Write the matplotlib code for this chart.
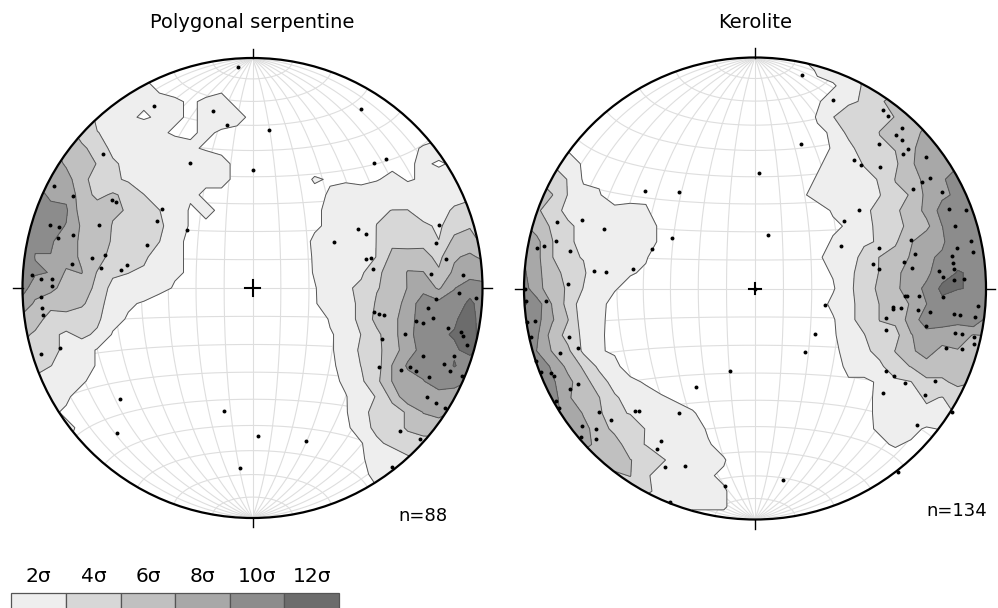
import numpy as np
import matplotlib.pyplot as plt
from matplotlib.patches import Circle, Rectangle

# poles read off the two lower-hemisphere equal-area nets
# (east, north in net units, primitive circle radius = 1)
serp_e = [-0.062, -0.430, -0.173, -0.110, -0.651, -0.273, 0.004, -0.863, -0.779, -0.611,
          -0.592, -0.393, -0.417, -0.285, -0.880, -0.843, -0.667, -0.847, -0.782, -0.460,
          -0.697, -0.640, -0.786, -0.659, -0.570, -0.544, -0.957, -0.920, -0.870, -0.873,
          -0.918, -0.914, -0.911, -0.920, -0.838, -0.577, -0.588, -0.125, -0.053,
          0.472, 0.073, 0.527, 0.582,
          0.457, 0.492, 0.354, 0.810, 0.798, 0.493, 0.515, 0.525, 0.841, 0.777, 0.914,
          0.898, 0.970, 0.798, 0.764, 0.528, 0.551, 0.573, 0.712, 0.741, 0.786,
          0.850, 0.905, 0.917, 0.663, 0.563, 0.934, 0.740, 0.875, 0.551, 0.646,
          0.685, 0.711, 0.831, 0.860, 0.766, 0.911, 0.759, 0.799, 0.837, 0.643,
          0.728, 0.605, 0.023, 0.234]
serp_n = [0.962, 0.793, 0.771, 0.707, 0.584, 0.545, 0.515, 0.442, 0.400, 0.384,
          0.373, 0.342, 0.293, 0.253, 0.275, 0.264, 0.274, 0.217, 0.230, 0.188,
          0.129, 0.142, 0.103, 0.088, 0.077, 0.101, 0.058, 0.040, 0.039, 0.009,
          -0.039, -0.088, -0.119, -0.287, -0.261, -0.484, -0.632, -0.533, -0.781,
          0.780, 0.688, 0.545, 0.561,
          0.258, 0.233, 0.201, 0.274, 0.194, 0.125, 0.129, 0.084, 0.127, 0.062, 0.057,
          -0.023, -0.043, -0.049, -0.088, -0.106, -0.112, -0.116, -0.145, -0.151, -0.132,
          -0.175, -0.190, -0.209, -0.199, -0.223, -0.249, -0.294, -0.297, -0.342, -0.355,
          -0.345, -0.360, -0.332, -0.361, -0.386, -0.381, -0.474, -0.499, -0.522, -0.622,
          -0.655, -0.780, -0.645, -0.665]

kero_e = [-0.475, -0.330, 0.019, -0.857, -0.749, -0.652, -0.861, -0.944, -0.913, -0.801,
          -0.358, -0.445, -0.698, -0.645, -0.529, -0.808, 0.203, 0.338, 0.553, 0.574,
          0.636, 0.612, 0.635, 0.662, 0.642, 0.199, 0.538, 0.430, 0.459, 0.542,
          0.742, 0.759, 0.724, 0.685, 0.808, 0.449, 0.385, 0.840, 0.912, 0.867,
          0.056, 0.677, 0.371, 0.537, 0.935, 0.874, 0.945, 0.693, 0.852, 0.645,
          0.858, 0.510, 0.537, 0.681, 0.861, 0.798, 0.813, 0.863, 0.903,
          0.303, 0.258, 0.215, 0.648, 0.659, 0.709, 0.815, 0.596, 0.599, 0.631,
          0.704, 0.758, 0.861, 0.887, 0.965, 0.952, 0.566, 0.739, 0.566, 0.866,
          0.895, 0.948, 0.948, 0.827, 0.897, 0.567, 0.603, 0.649, 0.779, 0.735,
          0.554, 0.853, 0.701, 0.620, 0.120,
          -0.995, -0.990, -0.903, -0.986, -0.952, -0.970, -0.804, -0.768, -0.843, -0.947,
          -0.926, -0.883, -0.868, -0.801, -0.765, -0.861, -0.848, -0.675, -0.622, -0.521,
          -0.503, -0.330, -0.750, -0.688, -0.688, -0.755, -0.406, -0.426, -0.388, -0.304,
          -0.257, -0.110, -0.130, -0.366, 0.0]
kero_n = [0.421, 0.418, 0.501, 0.289, 0.297, 0.258, 0.206, 0.175, 0.185, 0.162,
          0.217, 0.171, 0.077, 0.070, 0.086, 0.019, 0.924, 0.816, 0.773, 0.745,
          0.694, 0.666, 0.643, 0.604, 0.584, 0.624, 0.626, 0.555, 0.533, 0.527,
          0.568, 0.480, 0.461, 0.432, 0.419, 0.339, 0.291, 0.344, 0.340, 0.272,
          0.232, 0.210, 0.184, 0.175, 0.207, 0.177, 0.157, 0.149, 0.141, 0.115,
          0.112, 0.106, 0.086, 0.087, 0.083, 0.074, 0.048, 0.037, 0.040,
          -0.071, -0.198, -0.276, -0.031, -0.031, -0.032, -0.035, -0.080, -0.089, -0.084,
          -0.093, -0.100, -0.112, -0.116, -0.074, -0.125, -0.128, -0.162, -0.178, -0.191,
          -0.196, -0.209, -0.242, -0.258, -0.262, -0.357, -0.379, -0.409, -0.402, -0.462,
          -0.452, -0.536, -0.591, -0.796, -0.828,
          -0.003, -0.056, -0.054, -0.144, -0.141, -0.210, -0.209, -0.258, -0.281, -0.315,
          -0.361, -0.364, -0.377, -0.434, -0.414, -0.489, -0.517, -0.536, -0.569, -0.529,
          -0.530, -0.540, -0.595, -0.610, -0.653, -0.642, -0.659, -0.695, -0.771, -0.767,
          -0.425, -0.356, -0.856, -0.925, 0.0]

titles = ['Polygonal serpentine', 'Kerolite']
counts = ['n=88', 'n=134']
levels = [2, 4, 6, 8, 10, 12]
level_labels = ['2σ', '4σ', '6σ', '8σ', '10σ', '12σ']
fills = ['#eeeeee', '#d7d7d7', '#c0c0c0', '#a8a8a8', '#8c8c8c', '#6c6c6c']


def to_vec(e, n):
    # inverse Schmidt projection -> unit vectors (east, north, down)
    e = np.asarray(e, float)
    n = np.asarray(n, float)
    r = np.hypot(e, n)
    th = 2 * np.arcsin(np.clip(r / np.sqrt(2), 0, 1))
    az = np.arctan2(e, n)
    return np.stack([np.sin(th) * np.sin(az), np.sin(th) * np.cos(az), np.cos(th)], -1)


def project(v):
    v = np.where(v[..., 2:3] < 0, -v, v)
    th = np.arccos(np.clip(v[..., 2], -1, 1))
    r = np.sqrt(2) * np.sin(th / 2)
    az = np.arctan2(v[..., 0], v[..., 1])
    return r * np.sin(az), r * np.cos(az)


def kamb(e, n, size=33):
    # Kamb counting (expected count 3 sigma), axial data
    pts = to_vec(e, n)
    npts = len(pts)
    dist = 1 - 9.0 / (npts + 9)
    units = np.sqrt(npts * dist * (1 - dist))
    g = np.linspace(-1.08, 1.08, size)
    gx, gy = np.meshgrid(g, g)
    cosd = np.abs(to_vec(gx, gy) @ pts.T)
    return gx, gy, (cosd >= dist).sum(-1) / units


def draw_grid(ax):
    t = np.linspace(0, np.pi, 181)
    for d in range(10, 180, 10):
        dr = np.radians(d)
        v = np.stack([np.sin(t) * np.cos(dr), np.cos(t), np.sin(t) * np.sin(dr)], -1)
        ax.plot(*project(v), color='#dedede', lw=0.8, zorder=1)
        v = np.stack([np.sin(dr) * np.cos(t), np.full_like(t, np.cos(dr)), np.sin(dr) * np.sin(t)], -1)
        ax.plot(*project(v), color='#dedede', lw=0.8, zorder=1)


def stereonet(fig, cx, cy, R, e, n, title, cross):
    W, H = 998, 608
    half = 1.06 * R
    ax = fig.add_axes([(cx - half) / W, (H - cy - half) / H, 2 * half / W, 2 * half / H])
    ax.set_xlim(-1.06, 1.06)
    ax.set_ylim(-1.06, 1.06)
    ax.set_aspect('equal')
    ax.axis('off')

    draw_grid(ax)
    clip = Circle((0, 0), 1, transform=ax.transData)
    gx, gy, dens = kamb(e, n)
    cf = ax.contourf(gx, gy, dens, levels=levels + [1e6], colors=fills, zorder=2)
    cl = ax.contour(gx, gy, dens, levels=levels, colors='#555555', linewidths=0.7, zorder=3)
    cf.set_clip_path(clip)
    cl.set_clip_path(clip)

    ax.add_patch(Circle((0, 0), 1, fill=False, ec='black', lw=1.6, zorder=6))
    for dx, dy in [(0, 1), (1, 0), (0, -1), (-1, 0)]:
        ax.plot([dx, dx * 1.04], [dy, dy * 1.04], color='black', lw=1, zorder=6)
    ax.plot([-cross, cross], [0, 0], color='black', lw=1.5, zorder=6)
    ax.plot([0, 0], [-cross, cross], color='black', lw=1.5, zorder=6)
    ax.scatter(e, n, s=8, color='black', zorder=7, linewidths=0)

    fig.text(cx / W, 1 - 22 / H, title, ha='center', va='center', fontsize=14)
    return ax


fig = plt.figure(figsize=(9.98, 6.08), dpi=100)

stereonet(fig, 252.5, 288, 230, serp_e, serp_n, titles[0], 0.034)
stereonet(fig, 755, 288.5, 231, kero_e, kero_n, titles[1], 0.025)
fig.text(447 / 998, 1 - 516 / 608, counts[0], ha='right', va='center', fontsize=13)
fig.text(987 / 998, 1 - 511 / 608, counts[1], ha='right', va='center', fontsize=13)

# sigma scale at the bottom left
leg = fig.add_axes([0, 0, 1, 1])
leg.set_xlim(0, 998)
leg.set_ylim(608, 0)
leg.axis('off')
for i, (lab, col) in enumerate(zip(level_labels, fills)):
    x0 = 11.5 + i * 54.6
    leg.add_patch(Rectangle((x0, 593), 54.6, 20, fc=col, ec='#555555', lw=0.9))
    leg.text(x0 + 27.3, 577, lab, ha='center', va='center', fontsize=14.5)

fig.savefig('out.png', dpi=100)
